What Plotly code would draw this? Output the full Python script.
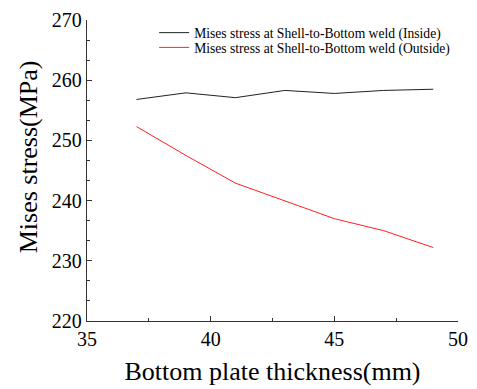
import plotly.graph_objects as go

thickness = [37, 39, 41, 43, 45, 47, 49]
inside = [256.8, 257.9, 257.1, 258.3, 257.8, 258.3, 258.5]
outside = [252.3, 247.5, 242.9, 240.0, 237.0, 235.0, 232.2]
name_in = "Mises stress at Shell-to-Bottom weld (Inside)"
name_out = "Mises stress at Shell-to-Bottom weld (Outside)"
x_title = "Bottom plate thickness(mm)"
y_title = "Mises stress(MPa)"

FONT = "Liberation Serif"

fig = go.Figure()
fig.add_trace(go.Scatter(x=thickness, y=inside, mode="lines", name=name_in, showlegend=True,
                         line=dict(color="#222222", width=1), legend="legend"))
fig.add_trace(go.Scatter(x=thickness, y=outside, mode="lines", name=name_out, showlegend=True,
                         line=dict(color="#ff2020", width=1), legend="legend2"))

axis_common = dict(
    showline=True, linecolor="#333333", linewidth=1.3,
    ticks="inside", ticklen=5, tickwidth=1, tickcolor="#333333",
    showgrid=False, zeroline=False, mirror=False,
    ticklabeloverflow="allow",
)

fig.update_xaxes(range=[35, 50], dtick=5, tick0=35,
                 tickfont=dict(family=FONT, size=20, color="black"),
                 title=dict(text=x_title, font=dict(family=FONT, size=26, color="black"), standoff=12),
                 minor=dict(ticks="inside", ticklen=3, dtick=2.5, tick0=35, tickcolor="#333333"),
                 **axis_common)
fig.update_yaxes(range=[220, 270], dtick=10, tick0=220,
                 tickfont=dict(family=FONT, size=20, color="black"),
                 minor=dict(ticks="inside", ticklen=3, dtick=10/3, tick0=220, tickcolor="#333333"),
                 ticklabelstandoff=0,
                 **axis_common)

fig.add_annotation(text=y_title, xref="paper", yref="paper",
                   x=(27 - 87) / 381, y=(322 - 155) / 306, xanchor="center", yanchor="middle",
                   textangle=-90, showarrow=False,
                   font=dict(family=FONT, size=26, color="black"))

fig.update_layout(
    width=477, height=389,
    margin=dict(l=87, r=9, t=16, b=67),
    plot_bgcolor="white", paper_bgcolor="white",
    font=dict(family=FONT, size=13.6, color="black"),
    showlegend=True,
    legend=dict(x=0.181, y=1 - (29 - 16) / 306, xanchor="left", yanchor="middle",
                bgcolor="rgba(0,0,0,0)", itemwidth=30,
                font=dict(family=FONT, size=13.6, color="black")),
    legend2=dict(x=0.181, y=1 - (44 - 16) / 306, xanchor="left", yanchor="middle",
                 bgcolor="rgba(0,0,0,0)", itemwidth=30,
                 font=dict(family=FONT, size=13.6, color="black")),
)

fig.write_html("out.html")
